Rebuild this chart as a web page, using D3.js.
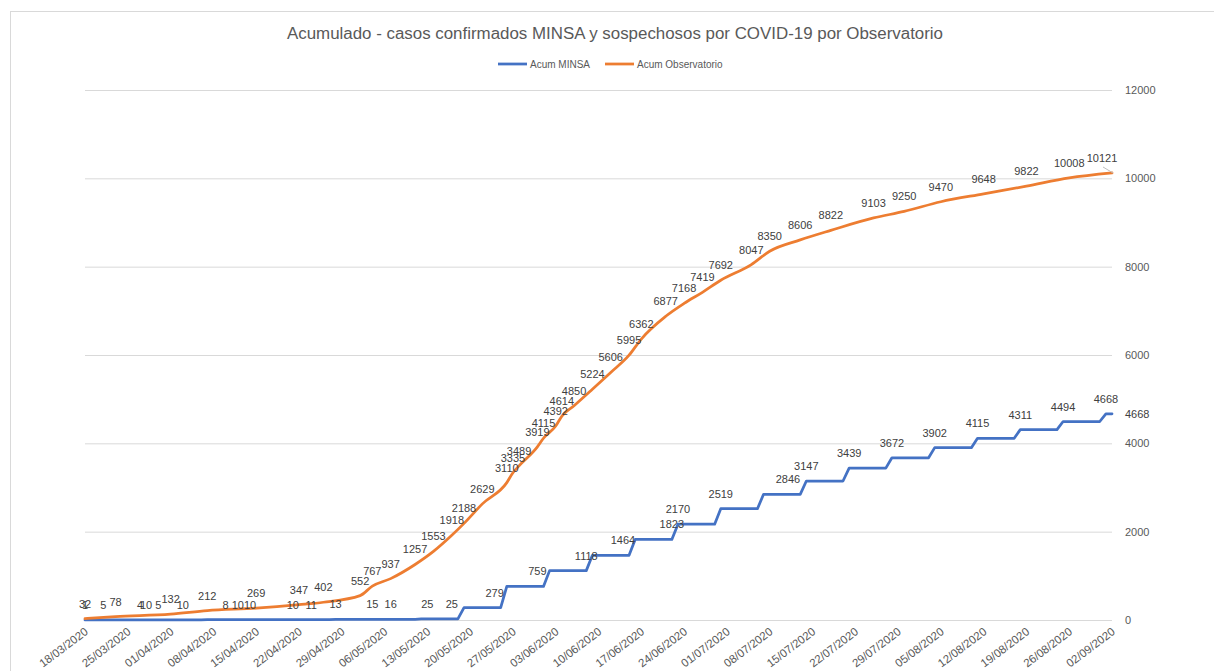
<!DOCTYPE html>
<html>
<head>
<meta charset="utf-8">
<script src="https://cdn.jsdelivr.net/npm/d3@7"></script>
<style>
  body { margin: 0; background: #fff; }
  text { font-family: "Liberation Sans", Arial, sans-serif; }
</style>
</head>
<body>
<svg id="chart" width="1214" height="671"></svg>
<script>
// tick labels of the date axis
var tickLabels = ["18/03/2020","25/03/2020","01/04/2020","08/04/2020","15/04/2020","22/04/2020",
  "29/04/2020","06/05/2020","13/05/2020","20/05/2020","27/05/2020","03/06/2020","10/06/2020",
  "17/06/2020","24/06/2020","01/07/2020","08/07/2020","15/07/2020","22/07/2020","29/07/2020",
  "05/08/2020","12/08/2020","19/08/2020","26/08/2020","02/09/2020"];
var yTicks = [0, 2000, 4000, 6000, 8000, 10000, 12000];

// Acum MINSA: weekly reports (value holds until next report)
var minsaDates = ["18/03/2020","24/03/2020","31/03/2020","07/04/2020","14/04/2020","21/04/2020",
  "28/04/2020","05/05/2020","12/05/2020","19/05/2020","26/05/2020","02/06/2020","09/06/2020",
  "16/06/2020","23/06/2020","30/06/2020","07/07/2020","14/07/2020","21/07/2020","28/07/2020",
  "04/08/2020","11/08/2020","18/08/2020","25/08/2020","01/09/2020","02/09/2020"];
var minsaValues = [1, 2, 5, 6, 9, 10, 13, 16, 25, 279, 759, 1118, 1464, 1823, 2170, 2519,
  2846, 3147, 3439, 3672, 3902, 4115, 4311, 4494, 4668, 4668];

// MINSA data labels
var minsaLabelDates = ["18/03/2020","21/03/2020","27/03/2020","28/03/2020","30/03/2020","03/04/2020",
  "10/04/2020","12/04/2020","14/04/2020","21/04/2020","24/04/2020","28/04/2020","04/05/2020",
  "07/05/2020","13/05/2020","17/05/2020","24/05/2020","31/05/2020","08/06/2020","14/06/2020",
  "22/06/2020","23/06/2020","30/06/2020","11/07/2020","14/07/2020","21/07/2020","28/07/2020",
  "04/08/2020","11/08/2020","18/08/2020","25/08/2020","01/09/2020"];
var minsaLabelValues = [1, 5, 4, 10, 5, 10, 8, 10, 10, 10, 11, 13, 15, 16, 25, 25, 279, 759,
  1118, 1464, 1823, 2170, 2519, 2846, 3147, 3439, 3672, 3902, 4115, 4311, 4494, 4668];

// Acum Observatorio
var obsDates = ["18/03/2020","23/03/2020","01/04/2020","07/04/2020","15/04/2020","22/04/2020",
  "26/04/2020","02/05/2020","04/05/2020","07/05/2020","11/05/2020","14/05/2020","17/05/2020",
  "19/05/2020","22/05/2020","26/05/2020","27/05/2020","28/05/2020","31/05/2020","01/06/2020",
  "03/06/2020","04/06/2020","06/06/2020","09/06/2020","12/06/2020","15/06/2020","17/06/2020",
  "21/06/2020","24/06/2020","27/06/2020","30/06/2020","05/07/2020","08/07/2020","13/07/2020",
  "18/07/2020","25/07/2020","30/07/2020","05/08/2020","12/08/2020","19/08/2020","26/08/2020",
  "02/09/2020"];
var obsValues = [32, 78, 132, 212, 269, 347, 402, 552, 767, 937, 1257, 1553, 1918, 2188, 2629,
  3110, 3335, 3489, 3919, 4115, 4392, 4614, 4850, 5224, 5606, 5995, 6362, 6877, 7168, 7419,
  7692, 8047, 8350, 8606, 8822, 9103, 9250, 9470, 9648, 9822, 10008, 10121];

var parse = d3.utcParse("%d/%m/%Y");
var blue = "#4472C4", orange = "#ED7D31";

var svg = d3.select("#chart");
var margin = {left: 85, right: 102, top: 90, bottom: 51};
var width = 1214, height = 671;

var x = d3.scaleUtc()
  .domain([parse(tickLabels[0]), parse(tickLabels[tickLabels.length - 1])])
  .range([margin.left, width - margin.right]);
var y = d3.scaleLinear().domain([0, 12000]).range([height - margin.bottom, margin.top]);

// chart border
svg.append("rect").attr("x", 10.5).attr("y", 11.5).attr("width", 1300).attr("height", 700)
  .attr("fill", "none").attr("stroke", "#d9d9d9");

// title
svg.append("text").attr("x", 615).attr("y", 39).attr("text-anchor", "middle")
  .attr("font-size", 16).attr("fill", "#595959")
  .attr("textLength", 656).attr("lengthAdjust", "spacingAndGlyphs")
  .text("Acumulado - casos confirmados MINSA y sospechosos por COVID-19 por Observatorio");

// legend
var legend = [{name: "Acum MINSA", color: blue, x: 498}, {name: "Acum Observatorio", color: orange, x: 605}];
var lg = svg.append("g").selectAll("g").data(legend).enter().append("g");
lg.append("line").attr("x1", function(d) { return d.x; }).attr("x2", function(d) { return d.x + 29; })
  .attr("y1", 64).attr("y2", 64).attr("stroke", function(d) { return d.color; }).attr("stroke-width", 2.75);
lg.append("text").attr("x", function(d) { return d.x + 32; }).attr("y", 64).attr("dy", "0.35em")
  .attr("font-size", 10).attr("fill", "#595959").text(function(d) { return d.name; });

// y axis on the right with gridlines
var yAxis = svg.append("g")
  .attr("transform", "translate(" + (width - margin.right) + ",0)")
  .call(d3.axisRight(y).tickValues(yTicks).tickFormat(d3.format("d"))
    .tickSize(-(width - margin.right - margin.left)).tickPadding(13));
yAxis.select(".domain").remove();
yAxis.selectAll("line").attr("stroke", "#d9d9d9");
yAxis.selectAll("text").attr("font-size", 11).attr("fill", "#595959")
  .style("font-family", "'Liberation Sans', Arial, sans-serif");

// x axis: rotated date labels
var xAxis = svg.append("g")
  .attr("transform", "translate(0," + (height - margin.bottom) + ")")
  .call(d3.axisBottom(x).tickValues(tickLabels.map(parse)).tickFormat(d3.utcFormat("%d/%m/%Y")).tickSize(0));
xAxis.select(".domain").remove();
xAxis.selectAll("text")
  .attr("font-size", 11.5).attr("fill", "#595959")
  .style("font-family", "'Liberation Sans', Arial, sans-serif")
  .attr("text-anchor", "end").attr("y", 0).attr("dy", "0.35em")
  .attr("transform", "translate(1,10) rotate(-37)");

// MINSA step line: each report holds until the day before the next one
var minsa = minsaDates.map(function(s, i) { return {date: parse(s), value: minsaValues[i]}; });
var minsaPath = [];
minsa.forEach(function(d, i) {
  minsaPath.push(d);
  if (i < minsa.length - 1) {
    var before = d3.utcDay.offset(minsa[i + 1].date, -1);
    if (before > d.date) minsaPath.push({date: before, value: d.value});
  }
});

var line = d3.line().x(function(d) { return x(d.date); }).y(function(d) { return y(d.value); });

svg.append("path").datum(minsaPath)
  .attr("fill", "none").attr("stroke", blue).attr("stroke-width", 2.75)
  .attr("stroke-linejoin", "round").attr("stroke-linecap", "round")
  .attr("d", line);

var obs = obsDates.map(function(s, i) { return {date: parse(s), value: obsValues[i]}; });
svg.append("path").datum(obs)
  .attr("fill", "none").attr("stroke", orange).attr("stroke-width", 2.75)
  .attr("stroke-linejoin", "round").attr("stroke-linecap", "round")
  .attr("d", line.curve(d3.curveMonotoneX));

// data labels
var labels = svg.append("g").attr("font-size", 11).attr("fill", "#404040").attr("text-anchor", "middle");

var minsaLabels = minsaLabelDates.map(function(s, i) { return {date: parse(s), value: minsaLabelValues[i]}; });
labels.selectAll(".lm").data(minsaLabels).enter().append("text")
  .attr("x", function(d) { return x(d.date); })
  .attr("y", function(d) { return y(d.value) - 11; })
  .text(function(d) { return d.value; });

// last MINSA point labelled on the right
var lastM = minsa[minsa.length - 1];
labels.append("text").attr("x", x(lastM.date) + 13).attr("y", y(lastM.value)).attr("dy", "0.35em")
  .attr("text-anchor", "start").text(lastM.value);

labels.selectAll(".lo").data(obs).enter().append("text")
  .attr("x", function(d, i) { return i === obs.length - 1 ? x(d.date) - 10 : x(d.date); })
  .attr("y", function(d) { return y(d.value) - 11; })
  .text(function(d) { return d.value; });

// leader line for the moved last label
var lastO = obs[obs.length - 1];
svg.append("line").attr("x1", x(lastO.date) - 9).attr("y1", y(lastO.value) - 6)
  .attr("x2", x(lastO.date) + 1).attr("y2", y(lastO.value))
  .attr("stroke", "#bfbfbf").attr("stroke-width", 1);
</script>
</body>
</html>
